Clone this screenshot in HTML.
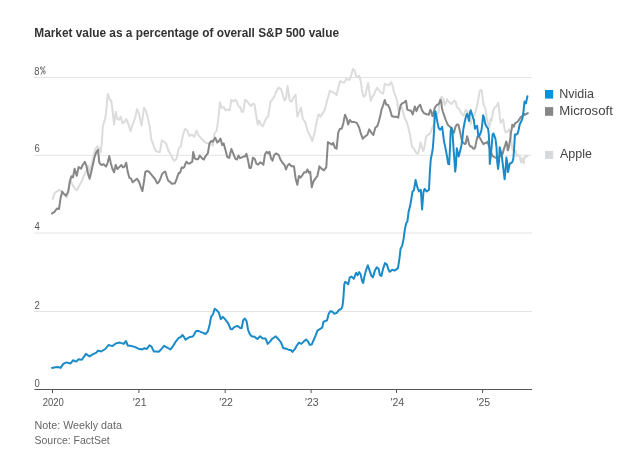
<!DOCTYPE html>
<html><head><meta charset="utf-8"><style>
html,body{margin:0;padding:0;background:#fff;}
body{width:620px;height:465px;overflow:hidden;position:relative;font-family:"Liberation Sans",sans-serif;}
svg{position:absolute;left:0;top:0;will-change:transform;}
.t{font-family:"Liberation Sans",sans-serif;font-weight:bold;font-size:12px;fill:#333;}
.yl{font-family:"Liberation Sans",sans-serif;font-size:11px;fill:#555;}
.xl{font-family:"Liberation Sans",sans-serif;font-size:10.5px;fill:#555;}
.lg{font-family:"Liberation Sans",sans-serif;font-size:12.5px;fill:#444;}
.ft{font-family:"Liberation Sans",sans-serif;font-size:10.5px;fill:#666;}
</style></head><body>
<svg width="620" height="465" viewBox="0 0 620 465">
<text x="34.3" y="36.8" class="t" textLength="304.7" lengthAdjust="spacingAndGlyphs">Market value as a percentage of overall S&amp;P 500 value</text>
<line x1="34" x2="532" y1="77.5" y2="77.5" stroke="#e4e4e4" stroke-width="1"/><line x1="34" x2="532" y1="155.3" y2="155.3" stroke="#e4e4e4" stroke-width="1"/><line x1="34" x2="532" y1="233.0" y2="233.0" stroke="#e4e4e4" stroke-width="1"/><line x1="34" x2="532" y1="311.5" y2="311.5" stroke="#e4e4e4" stroke-width="1"/>
<text x="34.3" y="74.6" class="yl" textLength="5.2" lengthAdjust="spacingAndGlyphs">8</text><g fill="none" stroke="#6a6a6a" stroke-width="0.9"><ellipse cx="41.3" cy="68.1" rx="0.8" ry="1.5"/><ellipse cx="44.4" cy="72.3" rx="0.9" ry="1.6"/><line x1="41.0" y1="74.5" x2="44.9" y2="66.0"/></g><text x="34.6" y="152.1" class="yl" textLength="5.3" lengthAdjust="spacingAndGlyphs">6</text><text x="34.6" y="229.8" class="yl" textLength="5.3" lengthAdjust="spacingAndGlyphs">4</text><text x="34.6" y="309.0" class="yl" textLength="5.3" lengthAdjust="spacingAndGlyphs">2</text><text x="34.6" y="387.0" class="yl" textLength="5.3" lengthAdjust="spacingAndGlyphs">0</text>
<g fill="none" stroke-linejoin="round" stroke-linecap="round" stroke-width="2">
<polyline points="52.8,198.9 54.5,193.2 56.9,191.3 59.3,190.0 61.7,191.3 64.1,194.8 66.5,197.3 68.2,193.2 69.8,179.5 72.2,184.4 75.4,189.2 77.0,190.0 79.5,185.2 81.9,181.1 84.3,174.7 86.4,170.6 88.3,165.8 89.9,173.9 91.5,165.0 93.2,157.7 95.1,149.7 97.2,146.5 98.8,147.3 100.9,152.1 102.0,140.0 102.8,126.3 104.8,119.8 106.1,113.4 106.9,103.7 107.7,94.0 109.0,96.5 110.1,100.5 111.2,100.5 112.5,110.2 114.1,124.7 115.7,111.8 117.4,119.0 119.0,119.8 120.6,116.6 122.5,123.1 124.1,122.3 126.2,119.0 128.6,124.7 130.6,131.1 132.2,125.5 135.1,118.2 137.0,108.9 139.1,114.2 141.5,125.5 144.0,107.7 145.6,110.2 147.4,116.0 149.5,125.6 151.5,140.2 153.4,145.0 155.5,150.6 157.9,151.8 159.8,152.3 161.9,140.2 164.0,141.8 166.0,143.4 168.4,150.6 170.8,154.7 172.7,158.7 174.4,160.8 176.5,158.7 178.9,148.2 180.8,146.6 182.9,135.3 185.0,128.9 187.3,130.5 189.4,136.1 191.8,134.5 194.2,136.9 196.6,130.5 198.5,135.3 200.6,137.7 203.1,140.2 205.5,142.6 207.9,143.4 210.3,143.4 212.7,145.8 214.4,133.7 216.8,130.5 218.4,117.6 220.0,102.3 221.6,107.9 223.7,107.1 225.6,110.3 227.6,109.5 229.7,110.3 231.3,99.8 233.4,101.5 235.3,99.8 236.9,101.5 238.5,106.3 240.2,107.1 241.6,111.8 243.2,111.8 245.2,99.7 247.3,101.3 248.9,103.7 251.0,106.1 252.9,103.7 254.5,104.5 256.1,115.0 257.7,124.7 259.4,120.6 261.0,124.7 262.9,126.3 265.0,120.6 266.6,117.9 268.2,116.6 270.6,101.3 272.3,99.7 273.9,97.3 276.3,91.6 278.7,87.6 281.1,89.2 282.7,94.8 284.4,100.5 286.0,98.9 287.6,86.0 288.7,93.2 289.7,100.5 291.6,101.8 293.5,97.3 295.6,94.8 297.3,116.6 299.4,111.8 301.0,107.7 302.9,119.0 305.3,122.3 307.7,131.1 310.6,136.8 312.3,141.3 314.5,132.7 317.1,119.8 318.7,114.2 320.6,116.6 322.6,113.4 324.7,110.2 327.1,100.5 330.0,90.8 332.7,92.1 335.0,93.5 336.6,95.1 338.2,87.8 340.2,81.0 342.3,82.2 344.4,82.6 346.3,78.9 348.2,79.7 349.8,79.7 351.5,74.1 353.1,68.8 354.7,70.9 356.3,76.5 357.6,77.3 359.2,75.7 360.8,81.4 362.4,92.6 363.7,96.7 365.3,95.9 366.9,87.8 368.1,83.0 369.2,91.0 370.8,100.7 372.4,96.7 373.7,95.1 375.3,91.0 377.3,87.8 378.9,90.2 381.0,92.6 383.1,93.5 384.7,83.8 386.6,84.6 389.0,85.4 391.1,82.2 392.3,84.6 393.9,91.8 395.5,95.9 397.1,100.7 398.2,110.4 399.5,108.8 401.1,105.5 402.7,110.0 404.4,117.3 406.8,122.1 408.4,127.7 410.0,135.0 412.1,147.1 414.0,148.7 416.5,153.5 418.1,153.2 419.7,147.1 420.5,142.3 421.8,147.1 423.4,151.1 424.5,147.1 426.1,136.6 427.7,135.0 429.8,134.0 431.3,130.7 432.7,126.8 434.7,122.9 437.1,115.2 438.6,112.3 439.3,104.5 440.5,98.2 441.9,96.8 443.4,99.2 444.8,105.0 445.8,103.1 447.1,99.2 448.4,101.6 450.0,102.6 451.3,104.0 453.1,102.1 454.0,100.6 455.5,101.6 456.8,106.9 457.9,107.9 459.4,109.4 460.8,112.3 462.3,114.7 463.7,115.7 465.2,110.8 466.1,109.8 467.6,111.8 469.0,117.1 470.5,123.9 472.0,119.0 473.4,116.1 474.9,114.2 476.3,108.4 477.8,102.6 478.7,96.8 479.7,91.5 480.4,89.8 481.8,90.8 482.8,99.5 483.7,105.3 485.2,107.7 486.2,114.0 487.1,119.8 488.1,123.7 489.6,126.6 490.5,118.9 491.5,120.8 492.5,115.0 493.4,110.2 494.6,107.3 495.8,106.8 497.1,105.3 498.1,102.9 499.0,107.3 499.7,116.9 500.7,122.8 501.9,120.8 503.1,119.4 504.1,125.7 504.8,130.0 505.9,132.5 507.8,131.2 509.1,129.3 510.4,134.5 511.5,143.0 512.5,150.0 514.7,150.8 515.7,150.8 516.6,156.3 517.9,154.9 519.7,155.8 521.1,162.6 522.5,158.1 523.8,163.5 524.7,157.2 526.1,155.4 527.0,156.7 527.8,155.8" stroke="#dcdcdc"/>
<polyline points="52.0,213.4 54.5,211.8 56.9,208.5 59.0,209.0 60.6,198.1 62.2,191.6 64.1,194.0 66.1,195.6 68.2,191.6 69.8,181.9 71.4,176.3 73.0,177.4 74.6,168.7 76.7,175.8 78.6,167.1 81.1,168.7 82.7,165.0 84.8,161.8 86.4,165.8 88.0,173.9 89.6,178.7 91.2,172.3 93.2,163.4 94.8,156.1 96.4,152.1 98.0,149.7 99.3,162.6 101.2,165.0 103.6,164.2 106.1,166.6 107.7,162.6 109.3,156.1 110.9,163.4 112.5,169.0 114.1,172.3 115.7,165.0 117.4,169.0 119.8,166.6 121.4,165.0 123.0,167.4 124.6,166.6 126.2,162.6 127.8,172.3 129.5,177.9 131.1,178.7 132.7,182.3 135.1,180.3 137.0,178.7 139.1,181.9 140.7,186.8 142.4,191.1 143.9,182.0 145.3,171.8 146.8,171.1 148.7,171.5 150.6,173.7 152.6,176.1 155.0,179.0 157.2,183.4 158.9,181.9 160.3,179.0 162.1,174.0 164.0,172.1 165.4,171.8 166.6,176.1 168.1,180.5 170.0,181.9 171.9,183.9 173.4,183.4 174.8,183.4 176.3,180.0 177.7,175.6 178.7,173.0 179.7,173.2 180.7,170.8 181.8,167.4 183.1,167.9 184.3,166.9 185.3,164.0 186.5,161.6 187.9,163.5 189.6,163.5 190.8,162.6 192.3,161.6 193.2,151.9 194.7,158.2 196.1,159.2 198.1,159.2 199.8,155.5 202.3,158.7 203.9,159.5 205.5,156.3 207.9,153.1 209.5,143.4 211.1,141.0 212.7,141.8 215.2,137.7 217.3,142.6 218.9,141.0 220.5,138.5 222.1,145.0 223.7,143.4 225.6,150.6 227.3,157.1 229.2,157.9 231.3,149.0 233.4,153.9 235.3,158.7 236.9,159.5 238.5,155.5 240.0,158.2 241.9,157.4 243.5,156.6 244.8,156.6 246.5,153.9 248.1,160.6 249.4,167.9 251.0,167.9 252.9,157.7 254.8,159.0 256.5,163.9 258.1,164.7 260.2,162.3 261.8,163.1 263.4,164.7 265.0,154.2 266.6,151.8 268.2,153.4 269.4,151.8 271.0,158.2 272.6,160.6 274.2,155.0 276.3,153.4 278.7,155.0 280.6,159.8 282.7,163.1 284.4,164.7 286.0,169.5 287.6,165.5 289.2,163.9 291.6,166.3 294.0,166.3 295.6,178.4 297.3,184.8 298.9,176.0 300.5,177.6 302.6,174.8 304.2,172.3 306.1,172.3 307.4,169.5 309.0,172.7 310.2,171.9 311.8,187.3 313.4,181.6 315.5,178.4 317.4,176.0 319.4,166.3 321.5,168.7 323.9,170.3 326.3,167.1 327.9,142.1 330.3,143.7 331.9,144.5 333.2,142.9 335.0,147.9 336.6,148.7 338.2,132.6 339.8,129.0 341.8,128.5 343.4,122.9 345.0,114.8 346.6,118.1 348.2,124.5 349.8,120.0 351.9,122.1 354.4,122.1 356.8,122.9 359.2,127.7 360.8,133.4 362.7,138.7 364.8,136.6 367.3,135.0 369.2,129.4 371.3,132.6 373.4,135.0 375.3,127.7 377.3,126.1 378.9,121.3 380.5,114.8 381.5,109.6 383.1,105.5 384.7,99.9 386.3,104.7 387.9,104.7 389.8,108.8 391.8,116.0 393.9,116.8 396.3,116.8 398.2,117.6 399.5,110.4 400.8,104.7 402.7,103.1 404.4,102.3 406.0,100.7 407.3,109.6 409.2,110.4 410.8,110.4 412.7,114.4 414.8,106.4 416.5,111.2 418.1,107.2 420.2,104.7 422.1,110.4 424.0,113.3 426.9,114.2 428.9,114.7 430.3,109.8 431.3,111.3 432.3,116.1 433.2,115.7 434.5,108.9 435.6,106.5 436.8,105.0 438.1,104.5 439.0,103.6 440.5,99.7 441.3,101.6 441.9,107.9 442.9,111.8 444.4,116.1 445.8,120.0 447.3,123.9 448.7,125.8 450.0,126.8 451.1,128.2 452.6,130.7 454.0,132.6 455.5,126.8 456.9,124.4 458.4,124.8 459.4,128.7 460.3,133.1 461.8,140.6 463.2,142.5 464.7,144.0 465.7,143.5 467.1,136.2 468.1,139.6 469.0,144.0 470.3,146.4 471.5,146.4 472.9,148.3 474.4,148.8 475.3,146.9 476.3,141.6 477.3,137.2 478.7,135.3 480.2,138.6 481.6,141.1 483.3,144.1 484.9,143.2 486.5,142.8 487.5,141.5 489.5,148.0 492.3,155.7 493.3,156.4 495.0,157.5 497.0,158.0 499.0,157.0 501.0,155.5 502.6,153.8 503.6,149.9 504.9,146.1 506.2,141.5 506.8,142.8 507.8,150.3 508.5,148.6 509.4,144.1 510.4,137.7 511.0,131.9 511.7,129.3 512.3,124.7 513.8,126.6 515.2,123.2 516.7,122.3 518.1,121.3 519.6,118.9 521.0,116.9 522.5,116.0 523.9,113.6 524.9,115.0 526.1,114.0 527.8,113.1" stroke="#878787"/>
<polyline points="52.0,367.9 55.3,367.3 58.5,367.1 60.6,367.9 63.3,363.9 66.5,362.4 70.6,363.5 73.0,360.3 76.2,361.6 78.6,359.2 81.9,359.7 85.9,353.9 89.6,356.3 93.2,354.2 96.4,352.6 98.0,350.6 101.2,351.5 105.3,349.0 108.5,345.0 112.5,346.1 115.7,343.4 119.8,342.6 123.8,343.9 125.9,341.0 127.8,345.5 131.9,346.1 135.9,347.4 138.3,348.7 142.4,349.4 144.5,348.2 146.9,349.0 149.5,345.3 151.5,346.6 153.9,351.5 156.3,351.5 158.7,351.8 161.1,349.5 164.0,345.8 166.8,347.4 170.5,349.5 173.2,345.8 175.6,341.8 178.9,337.7 180.5,337.3 182.4,335.0 183.7,336.6 185.6,339.8 187.7,338.2 190.2,336.9 192.6,336.6 194.2,334.5 195.8,331.3 198.2,330.8 200.6,331.8 203.1,332.9 205.5,334.0 207.9,331.3 209.5,325.6 211.1,316.8 213.1,314.0 214.7,308.7 216.8,310.3 218.9,312.7 220.8,319.2 222.9,316.8 224.8,318.9 227.3,322.1 228.9,324.8 230.5,328.9 232.1,329.2 234.5,326.9 237.7,326.0 240.2,328.1 241.6,328.2 243.2,320.2 244.8,318.5 246.5,321.0 248.1,329.8 249.7,333.9 251.6,336.3 254.5,336.8 257.4,339.0 260.2,336.3 262.6,338.4 265.5,338.4 267.7,343.9 269.8,341.9 272.3,338.7 275.8,336.3 278.7,339.5 281.1,342.7 283.2,348.1 286.0,348.7 288.4,349.7 290.8,350.0 292.4,351.9 294.8,349.2 296.5,346.0 298.9,342.7 301.3,343.9 303.7,341.6 306.1,339.5 307.7,341.1 309.7,344.8 311.8,344.4 313.9,339.5 315.8,335.2 317.4,330.6 320.6,328.7 322.3,327.4 323.5,321.8 325.5,321.0 327.1,320.2 328.7,313.7 330.3,311.3 332.3,311.6 334.4,313.7 336.8,312.9 339.2,309.7 341.3,309.0 342.5,306.0 343.3,299.2 344.3,284.1 345.2,281.9 346.7,282.9 348.2,284.4 349.8,277.4 351.6,276.6 353.8,278.9 356.1,272.8 357.6,275.1 359.1,272.1 360.6,274.4 362.1,281.1 363.2,282.9 364.4,276.6 365.9,270.6 367.8,265.3 369.6,270.6 371.4,275.9 372.9,277.4 374.9,270.6 376.8,267.3 378.7,269.1 379.9,275.1 381.4,275.9 383.2,268.3 385.0,263.1 386.9,264.6 388.9,270.6 389.9,271.8 392.2,269.8 394.5,270.6 396.7,269.1 397.9,268.3 399.0,261.6 400.0,254.0 400.5,249.0 402.2,245.6 403.6,238.7 405.0,228.4 406.2,223.3 407.4,221.5 408.7,211.2 410.1,206.1 411.3,199.2 412.5,191.5 413.9,190.3 415.6,180.0 417.3,187.2 419.0,191.5 420.8,189.8 422.1,209.5 423.4,192.3 424.6,188.9 426.8,191.5 429.0,189.8 429.8,173.0 430.8,159.0 432.0,153.2 432.7,149.3 433.5,139.6 434.2,128.0 434.7,111.8 435.5,111.3 436.4,117.1 437.4,121.9 438.6,127.7 440.0,129.7 441.0,128.7 442.2,126.8 442.9,132.6 443.9,140.6 445.3,147.4 446.8,155.1 448.2,163.8 449.2,164.3 450.0,147.4 450.7,130.9 451.6,127.8 452.6,132.6 453.1,142.5 454.2,157.0 455.2,171.6 456.0,164.8 456.8,148.3 457.7,152.2 458.7,156.6 459.8,152.2 461.3,145.9 462.3,139.6 463.2,130.0 464.7,122.0 466.1,116.1 467.1,113.7 468.1,117.1 469.0,121.0 470.0,112.3 470.7,110.3 471.7,113.2 472.9,117.1 473.9,120.0 474.9,128.7 476.1,126.3 477.1,125.8 478.0,133.1 478.4,136.6 479.9,134.7 481.3,130.8 482.1,125.8 483.1,115.2 484.2,117.9 485.2,123.7 486.6,126.6 488.1,128.6 488.8,134.5 489.4,147.4 489.8,163.9 490.7,156.3 491.6,147.2 492.6,134.5 493.5,133.5 494.6,136.4 495.5,139.0 496.5,147.4 497.2,161.7 498.1,168.9 499.0,161.7 499.7,147.2 500.6,150.8 501.7,155.4 502.6,162.6 503.7,171.6 504.6,179.3 505.5,170.7 506.4,157.6 507.3,163.5 508.0,172.1 508.9,168.0 509.8,163.5 511.2,163.0 512.5,161.7 513.4,158.1 514.1,149.0 514.9,134.5 516.2,134.5 517.5,133.8 518.6,130.0 519.6,124.7 521.0,121.8 522.3,118.9 523.2,114.0 523.9,107.3 524.5,101.5 525.9,103.5 527.4,96.2" stroke="#1a8bc8"/>
</g>
<line x1="34.5" x2="532" y1="389.5" y2="389.5" stroke="#555" stroke-width="1.1"/>
<line x1="52.5" x2="52.5" y1="389" y2="393" stroke="#555" stroke-width="1"/><text x="53.3" y="405.7" class="xl" text-anchor="middle" textLength="21.2" lengthAdjust="spacingAndGlyphs">2020</text><line x1="138.9" x2="138.9" y1="389" y2="393" stroke="#555" stroke-width="1"/><text x="139.70000000000002" y="405.7" class="xl" text-anchor="middle">′21</text><line x1="225.2" x2="225.2" y1="389" y2="393" stroke="#555" stroke-width="1"/><text x="226.0" y="405.7" class="xl" text-anchor="middle">′22</text><line x1="311.1" x2="311.1" y1="389" y2="393" stroke="#555" stroke-width="1"/><text x="311.90000000000003" y="405.7" class="xl" text-anchor="middle">′23</text><line x1="396.5" x2="396.5" y1="389" y2="393" stroke="#555" stroke-width="1"/><text x="397.3" y="405.7" class="xl" text-anchor="middle">′24</text><line x1="482.6" x2="482.6" y1="389" y2="393" stroke="#555" stroke-width="1"/><text x="483.40000000000003" y="405.7" class="xl" text-anchor="middle">′25</text>
<rect x="545" y="90" width="8.2" height="8.6" fill="#0894da"/>
<text x="559.3" y="97.6" class="lg">Nvidia</text>
<rect x="545" y="107.1" width="8.2" height="8.7" fill="#878787"/>
<text x="559.3" y="114.5" class="lg" textLength="53.6" lengthAdjust="spacingAndGlyphs">Microsoft</text>
<rect x="545" y="150.9" width="8.2" height="8" fill="#d7d9dc"/>
<text x="560" y="158.2" class="lg">Apple</text>
<text x="34.5" y="428.9" class="ft" textLength="87.5" lengthAdjust="spacingAndGlyphs">Note: Weekly data</text>
<text x="34.5" y="444.3" class="ft">Source: FactSet</text>
</svg>
</body></html>
